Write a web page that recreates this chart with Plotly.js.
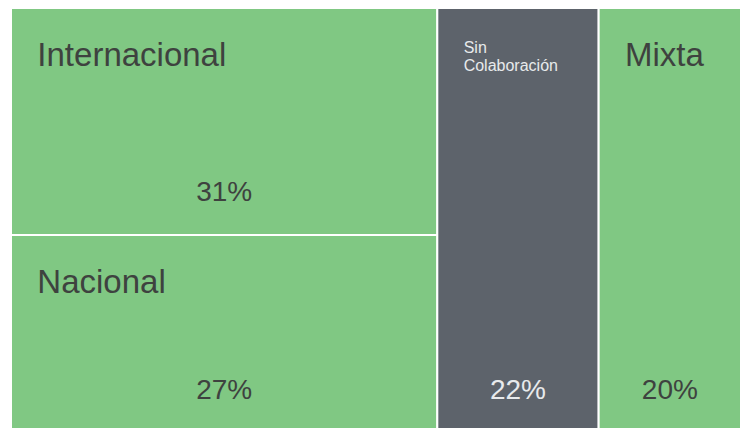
<!DOCTYPE html>
<html>
<head>
<meta charset="utf-8">
<script src="https://cdn.plot.ly/plotly-3.0.1.min.js"></script>
<style>html,body{margin:0;padding:0;background:#fff;overflow:hidden;}#chart{width:741px;height:433px;}#log{position:absolute;left:0;top:0;font:12px monospace;color:red;}</style>
</head>
<body>
<div id="chart"></div>
<div id="log"></div>
<script>
const categories = ["Internacional", "Nacional", "Sin Colaboración", "Mixta"];
const shares = [31.2, 27.2, 22.1, 19.5];
const parents = ["", "", "", ""];

const fills = ["#80c883", "#80c883", "#5d636b", "#80c883"];
const textColors = ["#3e423f", "#3e423f", "#e8eaec", "#3e423f"];

const ind = "&nbsp;&nbsp;&nbsp;&nbsp;&nbsp;&nbsp;";
const big = t => "<span style='font-size:41px'>&nbsp;</span><br>" + ind + "<span style='font-size:33px'>" + t + "</span>";
const small = t => "<span style='font-size:27px'>&nbsp;</span><br>" + t.split(" ").map(w => ind + "<span style='font-size:16px'>" + w + "</span>").join("<br>");
const labelTexts = categories.map((c, i) => c === "Sin Colaboración" ? small(c) : big(c));

function logit(){ document.getElementById('log').innerHTML += Array.from(arguments).join(' ') + '<br>'; }

const common = {
  type: "treemap",
  labels: categories,
  parents: parents,
  values: shares,
  sort: false,
  tiling: { packing: "squarify", squarifyratio: 1.618, pad: 0 },
  pathbar: { visible: false },
  root: { color: "rgba(0,0,0,0)" },
  hoverinfo: "skip",
  domain: { x: [0, 1], y: [0, 1] }
};

const labelTrace = Object.assign({}, common, {
  text: labelTexts,
  texttemplate: "%{text}",
  textposition: "top left",
  textfont: { family: "Liberation Sans", size: 14, color: textColors },
  marker: { colors: fills, line: { color: "#ffffff", width: 2 }, pad: { t: 0, l: 0, r: 0, b: 0 } }
});

const valueTrace = Object.assign({}, common, {
  texttemplate: "<span style='font-size:28px'>%{value:.0f}%</span><br>&nbsp;",
  textposition: "bottom center",
  textfont: { family: "Liberation Sans", size: 21, color: textColors },
  marker: { colors: ["rgba(0,0,0,0)", "rgba(0,0,0,0)", "rgba(0,0,0,0)", "rgba(0,0,0,0)"], line: { width: 0 }, pad: { t: 0, l: 0, r: 0, b: 0 } }
});

try {
Plotly.newPlot("chart", [labelTrace, valueTrace], {
  width: 741,
  height: 433,
  margin: { l: 11, r: 0, t: 8, b: 0, pad: 0 },
  paper_bgcolor: "#ffffff",
  showlegend: false
}, { displayModeBar: false, staticPlot: true }).catch(e => logit('ERR ' + e));
} catch(e) { logit('ERR ' + e); }
</script>
</body>
</html>
